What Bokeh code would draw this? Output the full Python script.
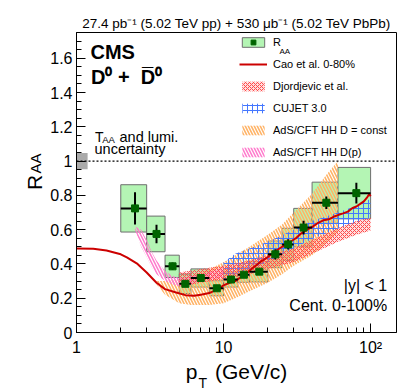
import numpy as np
from bokeh.plotting import figure
from bokeh.models import FixedTicker, Legend, LegendItem, Label, Span
from bokeh.embed import file_html
from bokeh.resources import INLINE

FONT = "Liberation Sans"

# ---- data: CMS D0 R_AA ----
pt_lo = [2, 3, 4, 5, 6, 8, 10, 12.5, 15, 20, 25, 30, 40, 60]
pt_hi = [3, 4, 5, 6, 8, 10, 12.5, 15, 20, 25, 30, 40, 60, 100]
pt = [2.5, 3.5, 4.5, 5.5, 7, 9, 11.25, 13.75, 17.5, 22.5, 27.5, 35, 50, 80]
raa = [0.724, 0.575, 0.386, 0.284, 0.318, 0.258, 0.309, 0.337, 0.355, 0.456, 0.514, 0.612, 0.757, 0.813]
stat = [0.094, 0.054, 0.022, 0.017, 0.015, 0.015, 0.015, 0.015, 0.017, 0.03, 0.03, 0.04, 0.037, 0.06]
syst = [0.138, 0.104, 0.065, 0.057, 0.053, 0.044, 0.044, 0.044, 0.06, 0.078, 0.094, 0.112, 0.12, 0.15]

# global normalisation uncertainty box
norm_x = [1.0, 1.19]
norm_unc = 0.047

# ---- theory ----
cao_x = [1.0, 1.3, 1.6, 2.0, 2.2, 2.6, 3.0, 3.5, 4.0, 4.7, 5.5, 6.3, 7.0, 8.0, 9.0, 10, 11, 12, 14, 16,
         18, 20, 22, 25, 28, 31, 34, 37, 40, 44, 48, 52, 56, 60, 65, 70, 75, 80, 85, 90, 95, 98, 100]
cao_y = [0.49, 0.488, 0.478, 0.456, 0.438, 0.40, 0.35, 0.29, 0.253, 0.235, 0.218, 0.215, 0.22, 0.23,
         0.25, 0.275, 0.29, 0.30, 0.34, 0.38, 0.415, 0.44, 0.468, 0.50, 0.525, 0.55, 0.58, 0.60, 0.615,
         0.64, 0.655, 0.66, 0.675, 0.685, 0.695, 0.705, 0.725, 0.735, 0.75, 0.765, 0.79, 0.808, 0.795]

djo_x = [5, 7, 10, 15, 20, 30, 40, 60, 80, 100]
djo_up = [0.35, 0.37, 0.39, 0.42, 0.45, 0.49, 0.54, 0.61, 0.65, 0.67]
djo_lo = [0.265, 0.29, 0.31, 0.34, 0.37, 0.41, 0.46, 0.53, 0.57, 0.595]

cuj_x = [10, 12, 15, 20, 30, 40, 60, 80, 100]
cuj_up = [0.41, 0.46, 0.49, 0.53, 0.60, 0.65, 0.70, 0.74, 0.78]
cuj_lo = [0.31, 0.34, 0.37, 0.41, 0.49, 0.545, 0.605, 0.64, 0.67]

ads_x = [3.5, 4, 5, 6, 8, 10, 12, 15, 20, 25, 30, 40, 50, 60]
ads_up = [0.30, 0.30, 0.31, 0.33, 0.37, 0.41, 0.45, 0.50, 0.57, 0.63, 0.70, 0.81, 0.92, 1.0]
ads_lo = [0.28, 0.22, 0.17, 0.16, 0.16, 0.17, 0.20, 0.24, 0.29, 0.34, 0.39, 0.45, 0.52, 0.58]

adp_x = [2.5, 2.75, 3.0, 3.25, 3.5, 4.0, 4.5, 5.0, 6.0, 7.0, 8.5, 10]
adp_up = [0.62, 0.60, 0.54, 0.47, 0.42, 0.36, 0.33, 0.32, 0.33, 0.34, 0.36, 0.38]
adp_lo = [0.60, 0.50, 0.44, 0.38, 0.34, 0.30, 0.28, 0.27, 0.28, 0.30, 0.31, 0.32]

y_ticks = [0, 0.2, 0.4, 0.6, 0.8, 1, 1.2, 1.4, 1.6]
y_labels = ["0", "0.2", "0.4", "0.6", "0.8", "1", "1.2", "1.4", "1.6"]
x_ticks = [1, 10, 100]
x_labels = ["1", "10", "10\u00b2"]

p = figure(width=407, height=391, x_axis_type="log", x_range=(1, 150), y_range=(0, 1.75),
           output_backend="svg", toolbar_location=None,
           min_border_left=76, min_border_right=11, min_border_top=32, min_border_bottom=59)
p.background_fill_color = "white"
p.border_fill_color = "white"
p.outline_line_color = "black"
p.outline_line_width = 1
p.grid.visible = False

# title
p.title.text = "27.4 pb\u207b\u00b9 (5.02 TeV pp) + 530 \u03bcb\u207b\u00b9 (5.02 TeV PbPb)"
p.title.align = "center"
p.title.text_font = FONT
p.title.text_font_size = "13.5px"
p.title.text_font_style = "normal"
p.title.text_color = "black"
p.title.standoff = 4

# axes
minor_x = [m * d for d in (1, 10) for m in range(2, 10)]
p.xaxis.ticker = FixedTicker(ticks=x_ticks, minor_ticks=minor_x)
p.xaxis.major_label_overrides = {t: l for t, l in zip(x_ticks, x_labels)}
minor_y = [round(0.05 * i, 2) for i in range(0, 36)]
p.yaxis.ticker = FixedTicker(ticks=y_ticks, minor_ticks=minor_y)
p.yaxis.major_label_overrides = {t: l for t, l in zip(y_ticks, y_labels)}
for ax in (p.xaxis[0], p.yaxis[0]):
    ax.major_tick_in = 9
    ax.major_tick_out = 0
    ax.minor_tick_in = 5
    ax.minor_tick_out = 0
    ax.major_tick_line_color = "black"
    ax.minor_tick_line_color = "black"
    ax.axis_line_color = "black"
    ax.major_label_text_font = FONT
    ax.major_label_text_font_size = "16px"
    ax.major_label_text_color = "black"
    ax.axis_label_text_font = FONT
    ax.axis_label_text_font_size = "21px"
    ax.axis_label_text_font_style = "normal"
    ax.axis_label_text_color = "black"
p.xaxis.major_label_standoff = 6
p.yaxis.major_label_standoff = 4
p.xaxis.axis_label = "p\u00a0\u00a0\u00a0(GeV/c)"
p.xaxis.axis_label_standoff = 1
p.yaxis.axis_label = "R"
p.yaxis.axis_label_standoff = 1

# normalisation box + line at 1
p.quad(left=[norm_x[0]], right=[norm_x[1]], bottom=[1 - norm_unc], top=[1 + norm_unc],
       fill_color="#aaaaaa", line_color=None)
p.add_layout(Span(location=1, dimension="width", line_color="black", line_dash="2 2", line_width=1.3))

# syst boxes
ylo = [r - s for r, s in zip(raa, syst)]
yhi = [r + s for r, s in zip(raa, syst)]
r_box = p.quad(left=pt_lo, right=pt_hi, bottom=ylo, top=yhi, fill_color="#b4f5b4",
               line_color="#6e6e6e", line_width=1)

# theory bands
r_ads = p.varea(x=ads_x, y1=ads_lo, y2=ads_up, fill_color=None, fill_alpha=0,
                hatch_pattern="\\", hatch_color="#ffb366", hatch_scale=6, hatch_weight=1.6)
r_adp = p.varea(x=adp_x, y1=adp_lo, y2=adp_up, fill_color=None, fill_alpha=0,
                hatch_pattern="\\", hatch_color="#ff7acc", hatch_scale=6, hatch_weight=1.5)
r_cuj = p.varea(x=cuj_x, y1=cuj_lo, y2=cuj_up, fill_color=None, fill_alpha=0,
                hatch_pattern="+", hatch_color="#4477ff", hatch_scale=5, hatch_weight=1.0)
r_djo = p.varea(x=djo_x, y1=djo_lo, y2=djo_up, fill_color="#ff8080", fill_alpha=0.25,
                hatch_pattern="x", hatch_color="#ff4a4a", hatch_scale=4, hatch_weight=1.0)
r_cao = p.line(cao_x, cao_y, line_color="#cc0000", line_width=2)

# error bars and points
p.segment(x0=pt_lo, x1=pt_hi, y0=raa, y1=raa, line_color="black", line_width=2)
p.segment(x0=pt, x1=pt, y0=[r - s for r, s in zip(raa, stat)], y1=[r + s for r, s in zip(raa, stat)],
          line_color="black", line_width=2)
r_pts = p.scatter(pt, raa, marker="square", size=7, fill_color="#006400", line_color="#006400")

legend = Legend(items=[
    LegendItem(label="R", renderers=[r_box, r_pts]),
    LegendItem(label="Cao et al. 0-80%", renderers=[r_cao]),
    LegendItem(label="Djordjevic et al.", renderers=[r_djo]),
    LegendItem(label="CUJET 3.0", renderers=[r_cuj]),
    LegendItem(label="AdS/CFT HH D = const", renderers=[r_ads]),
    LegendItem(label="AdS/CFT HH D(p)", renderers=[r_adp]),
], location=(163, 174), glyph_width=28, glyph_height=12, label_height=12, label_standoff=6,
    spacing=10, padding=0, margin=0, border_line_color=None, background_fill_alpha=0,
    label_text_font=FONT, label_text_font_size="11px", label_text_color="black")
p.add_layout(legend)


def lab(text, x, y, size, bold=False, align="left", baseline="middle", angle=0, side=None,
        units="screen"):
    l = Label(x=x, y=y, x_units=units, y_units=units, text=text,
              text_font=FONT, text_font_size=f"{size}px",
              text_font_style="bold" if bold else "normal",
              text_align=align, text_baseline=baseline, angle=angle,
              angle_units="deg", text_color="black")
    if side is None:
        p.add_layout(l)
    else:
        p.add_layout(l, side)


lab("AA", 203, 280.8, 8)
lab("CMS", 14, 281, 20, bold=True)
lab("D\u2070 +\u00a0 D\u0305\u2070", 14.5, 256, 20, bold=True)
lab("T", 18.5, 196, 14)
lab("AA", 25.7, 192.7, 9.5)
lab("and lumi.", 43, 196, 14.5)
lab("uncertainty", 18, 183.6, 14.5)
lab("|y| < 1", 310.7, 47, 16, align="right")
lab("Cent. 0-100%", 310.7, 27, 16, align="right")
# subscripts of the axis titles, placed in side panels (outside the frame)
lab("AA", 35, 163, 15, align="center", angle=90, side="left", units="canvas")
lab("T", -198, -50, 14, side="right")

open("out.html", "w").write(file_html(p, INLINE))
